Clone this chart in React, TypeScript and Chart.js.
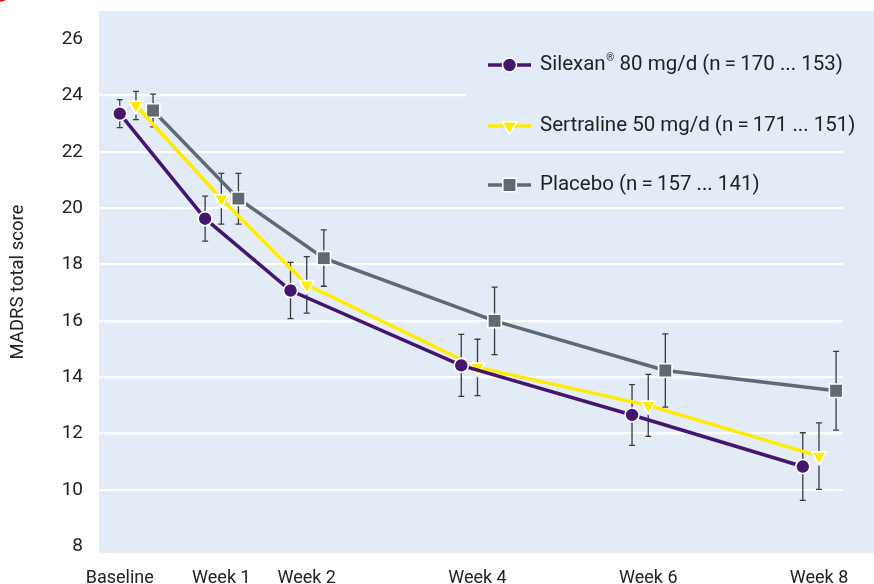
import React, { useEffect, useRef } from "react";
import { Chart, registerables } from "chart.js";

Chart.register(...registerables);

// ---------- data ----------
const weeks = [0, 1, 2, 4, 6, 8];
const xTickLabels = ["Baseline", "Week 1", "Week 2", "Week 4", "Week 6", "Week 8"];
const yTicks = [8, 10, 12, 14, 16, 18, 20, 22, 24, 26];
const gridValues = [10, 12, 14, 16, 18, 20, 22, 24];

const seriesLabels = [
  "Silexan® 80 mg/d (n\u2009=\u2009170 ... 153)",
  "Sertraline 50 mg/d (n\u2009=\u2009171 ... 151)",
  "Placebo (n\u2009=\u2009157 ... 141)",
];

const silexanMean = [23.36, 19.63, 17.08, 14.42, 12.66, 10.83];
const silexanErr = [0.5, 0.8, 1.0, 1.1, 1.08, 1.2];
const sertralineMean = [23.65, 20.34, 17.28, 14.35, 13.0, 11.2];
const sertralineErr = [0.5, 0.9, 1.0, 1.0, 1.1, 1.18];
const placeboMean = [23.47, 20.34, 18.23, 16.0, 14.24, 13.52];
const placeboErr = [0.58, 0.9, 1.0, 1.2, 1.3, 1.4];

// ---------- styles ----------
const FONT = "Roboto, 'DejaVu Sans', sans-serif";
const BG = "#e3ebf6";
const TEXT = "#222222";
const COLORS = ["#45166e", "#ffec00", "#5f6b72"];
const POINT_STYLES = ["circle", "triangle", "rect"];
const POINT_RADII = [7, 8.5, 9.5];
const POINT_ROT = [0, 180, 0];
const X_OFFSETS = [-0.19, 0, 0.2];

const means = [silexanMean, sertralineMean, placeboMean];
const errs = [silexanErr, sertralineErr, placeboErr];

function drawMarker(ctx: CanvasRenderingContext2D, style: string, x: number, y: number, r: number, color: string) {
  ctx.save();
  ctx.fillStyle = color;
  ctx.strokeStyle = "#ffffff";
  ctx.lineWidth = 1.6;
  ctx.beginPath();
  if (style === "circle") {
    ctx.arc(x, y, r, 0, Math.PI * 2);
  } else if (style === "triangle") {
    const h = r;
    ctx.moveTo(x, y + h);
    ctx.lineTo(x + Math.sin((2 * Math.PI) / 3) * h, y - 0.5 * h);
    ctx.lineTo(x - Math.sin((2 * Math.PI) / 3) * h, y - 0.5 * h);
  } else {
    const s = r * Math.SQRT1_2;
    ctx.rect(x - s, y - s, 2 * s, 2 * s);
  }
  ctx.closePath();
  ctx.fill();
  ctx.stroke();
  ctx.restore();
}

const backgroundPlugin = {
  id: "bgPlugin",
  beforeDraw(chart: any) {
    const { ctx, chartArea, width } = chart;
    ctx.save();
    ctx.fillStyle = BG;
    ctx.fillRect(chartArea.left, chartArea.top, width - chartArea.left, chartArea.bottom - chartArea.top);
    ctx.fillStyle = "#e30613";
    ctx.beginPath();
    ctx.arc(-4, -22, 24, 0, Math.PI * 2);
    ctx.fill();
    ctx.restore();
  },
};

const errorBarPlugin = {
  id: "errorBars",
  beforeDatasetsDraw(chart: any) {
    const { ctx, chartArea } = chart;
    const yScale = chart.scales.y;
    ctx.save();
    ctx.fillStyle = BG;
    ctx.fillRect(466, chartArea.top, chartArea.right - 466 + 2, 140 - chartArea.top);
    ctx.restore();

    ctx.save();
    ctx.strokeStyle = "#3c3c3c";
    ctx.lineWidth = 1.3;
    chart.data.datasets.forEach((_ds: any, di: number) => {
      const meta = chart.getDatasetMeta(di);
      meta.data.forEach((pt: any, i: number) => {
        const v = means[di][i];
        const e = errs[di][i];
        const yTop = yScale.getPixelForValue(v + e);
        const yBot = yScale.getPixelForValue(v - e);
        const x = pt.x;
        ctx.beginPath();
        ctx.moveTo(x, yTop);
        ctx.lineTo(x, yBot);
        ctx.moveTo(x - 3, yTop);
        ctx.lineTo(x + 3, yTop);
        ctx.moveTo(x - 3, yBot);
        ctx.lineTo(x + 3, yBot);
        ctx.stroke();
      });
    });
    ctx.restore();
  },
};

const legendPlugin = {
  id: "customLegend",
  afterDraw(chart: any) {
    const { ctx } = chart;
    const x0 = 488;
    const x1 = 531;
    const textX = 540;
    const rowsY = [65, 126, 185];
    ctx.save();
    seriesLabels.forEach((label, i) => {
      const y = rowsY[i];
      ctx.strokeStyle = COLORS[i];
      ctx.lineWidth = 3.5;
      ctx.beginPath();
      ctx.moveTo(x0, y);
      ctx.lineTo(x1, y);
      ctx.stroke();
      drawMarker(ctx, POINT_STYLES[i], (x0 + x1) / 2, y, POINT_RADII[i], COLORS[i]);
      ctx.fillStyle = TEXT;
      ctx.textBaseline = "middle";
      ctx.textAlign = "left";
      const parts = label.split("®");
      let x = textX;
      ctx.font = `20.5px ${FONT}`;
      ctx.fillText(parts[0], x, y);
      x += ctx.measureText(parts[0]).width;
      if (parts.length > 1) {
        ctx.font = `10px ${FONT}`;
        ctx.fillText("®", x + 0.5, y - 7);
        x += ctx.measureText("®").width + 1;
        ctx.font = `20.5px ${FONT}`;
        ctx.fillText(parts[1], x, y);
      }
    });
    ctx.restore();
  },
};

export default function App() {
  const canvasRef = useRef<HTMLCanvasElement | null>(null);

  useEffect(() => {
    if (!canvasRef.current) return;
    const datasets = means.map((m, di) => ({
      label: seriesLabels[di],
      data: m.map((v, i) => ({ x: weeks[i] + X_OFFSETS[di], y: v })),
      borderColor: COLORS[di],
      backgroundColor: COLORS[di],
      borderWidth: 3.5,
      pointStyle: POINT_STYLES[di],
      pointRotation: POINT_ROT[di],
      pointRadius: POINT_RADII[di],
      pointBorderColor: "#ffffff",
      pointBorderWidth: 1.6,
      pointBackgroundColor: COLORS[di],
      tension: 0,
      fill: false,
    }));

    const chart = new Chart(canvasRef.current, {
      type: "line",
      data: { datasets },
      plugins: [backgroundPlugin, errorBarPlugin, legendPlugin],
      options: {
        responsive: false,
        animation: false,
        layout: { padding: { top: 11, right: 31, bottom: 0, left: 0 } },
        plugins: {
          legend: { display: false },
          tooltip: { enabled: false },
        },
        scales: {
          x: {
            type: "linear",
            min: -0.433,
            max: 8.281,
            afterBuildTicks: (scale: any) => {
              scale.ticks = weeks.map((w, i) => ({ value: i === 0 ? w + X_OFFSETS[0] : w }));
            },
            afterFit: (scale: any) => {
              scale.height = 31;
              scale.paddingLeft = 0;
              scale.paddingRight = 0;
            },
            grid: { display: false, drawTicks: false },
            border: { display: false },
            ticks: {
              autoSkip: false,
              maxRotation: 0,
              padding: 15,
              color: TEXT,
              font: { family: FONT, size: 18 },
              callback: (_v: any, i: number) => xTickLabels[i],
            },
          },
          y: {
            type: "linear",
            min: 7.76,
            max: 27.0,
            afterBuildTicks: (scale: any) => {
              scale.ticks = yTicks.map((v) => ({ value: v }));
            },
            afterFit: (scale: any) => {
              scale.width = 99;
              scale.paddingTop = 0;
              scale.paddingBottom = 0;
            },
            grid: {
              drawTicks: false,
              lineWidth: 2.2,
              color: (c: any) => (c.tick && gridValues.includes(c.tick.value) ? "#ffffff" : "rgba(0,0,0,0)"),
            },
            border: { display: false },
            ticks: {
              padding: 16,
              color: TEXT,
              font: { family: FONT, size: 19 },
            },
            title: {
              display: true,
              text: "MADRS total score",
              color: TEXT,
              font: { family: FONT, size: 18.5 },
              padding: { top: 7, bottom: 0 },
            },
          },
        },
      },
    });
    return () => chart.destroy();
  }, []);

  return (
    <div style={{ position: "fixed", left: 0, top: 0, width: 874, height: 584, background: "#ffffff" }}>
      <canvas ref={canvasRef} width={874} height={584} />
    </div>
  );
}
